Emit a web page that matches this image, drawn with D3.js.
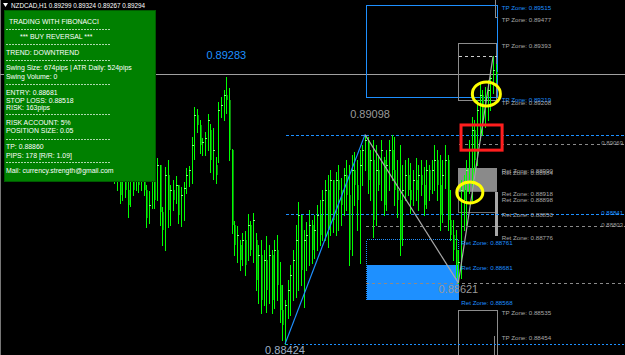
<!DOCTYPE html>
<html><head><meta charset="utf-8">
<script src="https://cdn.jsdelivr.net/npm/d3@7/dist/d3.min.js"></script>
<style>html,body{margin:0;padding:0;background:#000;overflow:hidden}svg{display:block}</style>
</head><body>
<script>
// ---------- DATA ----------
const symbolTitle = "NZDCAD,H1  0.89299 0.89324 0.89267 0.89294";
const barHigh = [0.89000,0.89016,0.89000,0.89000,0.88978,0.88952,0.88968,0.88984,0.89016,0.89000,
0.88984,0.88991,0.88936,0.88917,0.88991,0.88984,0.89023,0.89000,0.88865,0.88994,
0.89016,0.88936,0.88952,0.88965,0.88936,0.88929,0.88946,0.88991,0.88997,0.89090,
0.89187,0.89180,0.89145,0.89087,0.89106,0.89164,0.89132,0.89119,0.89026,0.89203,
0.89219,0.89241,0.89283,0.89248,0.89052,0.88820,0.88804,0.88759,0.88781,0.88788,
0.88843,0.88820,0.88846,0.88781,0.88743,0.88759,0.88727,0.88772,0.88743,0.88727,
0.88759,0.88775,0.88688,0.88614,0.88566,0.88630,0.88678,0.88727,0.88807,0.88881,
0.88839,0.88791,0.88817,0.88855,0.88823,0.88839,0.88871,0.88888,0.88920,0.88952,
0.88968,0.88984,0.88952,0.88978,0.89000,0.88958,0.88991,0.89016,0.89000,0.89032,
0.89042,0.89016,0.89048,0.89065,0.89098,0.89090,0.89048,0.89081,0.89065,0.89032,
0.89081,0.89026,0.89048,0.89081,0.89097,0.89090,0.89016,0.89065,0.89000,0.89016,
0.89023,0.89007,0.88984,0.89023,0.89000,0.89016,0.88994,0.89016,0.89000,0.89016,
0.89065,0.89048,0.89032,0.89016,0.89065,0.89032,0.88920,0.88823,0.88791,0.88727,
0.88952,0.88968,0.89016,0.89081,0.89155,0.89145,0.89209,0.89264,0.89241,0.89251,
0.89274,0.89306,0.89350,0.89324];
const barLow = [0.88942,0.88920,0.88878,0.88888,0.88897,0.88833,0.88868,0.88904,0.88920,0.88913,
0.88920,0.88904,0.88801,0.88814,0.88862,0.88862,0.88888,0.88807,0.88743,0.88727,
0.88801,0.88807,0.88855,0.88878,0.88814,0.88804,0.88823,0.88910,0.88933,0.88942,
0.89020,0.89106,0.89039,0.89032,0.89032,0.89048,0.88978,0.88955,0.88942,0.89010,
0.89155,0.89145,0.89167,0.89016,0.88781,0.88711,0.88688,0.88662,0.88678,0.88646,
0.88695,0.88711,0.88688,0.88598,0.88556,0.88524,0.88550,0.88527,0.88556,0.88524,
0.88540,0.88566,0.88495,0.88437,0.88424,0.88508,0.88518,0.88566,0.88576,0.88598,
0.88614,0.88543,0.88662,0.88678,0.88685,0.88701,0.88727,0.88743,0.88759,0.88759,
0.88736,0.88775,0.88785,0.88775,0.88791,0.88807,0.88839,0.88855,0.88678,0.88711,
0.88871,0.88791,0.88685,0.88936,0.88984,0.88910,0.88888,0.88769,0.88807,0.88920,
0.88888,0.88839,0.88855,0.88920,0.88952,0.88871,0.88833,0.88711,0.88743,0.88888,
0.88904,0.88846,0.88871,0.88888,0.88855,0.88904,0.88839,0.88862,0.88888,0.88910,
0.88920,0.88888,0.88791,0.88817,0.88926,0.88791,0.88759,0.88695,0.88640,0.88621,
0.88637,0.88791,0.88807,0.88910,0.88888,0.88952,0.89000,0.89081,0.89097,0.89122,
0.89145,0.89177,0.89232,0.89267];
const barOpen = [0.88984,0.88958,0.88991,0.88904,0.88978,0.88920,0.88871,0.88952,0.88920,0.88991,
0.88936,0.88968,0.88920,0.88830,0.88871,0.88968,0.88888,0.89000,0.88849,0.88791,
0.88968,0.88855,0.88920,0.88888,0.88936,0.88839,0.88904,0.88926,0.88968,0.88984,
0.89065,0.89161,0.89129,0.89065,0.89074,0.89087,0.89113,0.89016,0.89000,0.89016,
0.89177,0.89193,0.89225,0.89209,0.89048,0.88807,0.88743,0.88743,0.88695,0.88759,
0.88695,0.88807,0.88727,0.88759,0.88630,0.88711,0.88566,0.88695,0.88598,0.88711,
0.88566,0.88727,0.88614,0.88534,0.88485,0.88550,0.88598,0.88646,0.88695,0.88759,
0.88839,0.88662,0.88759,0.88775,0.88807,0.88727,0.88791,0.88839,0.88775,0.88888,
0.88920,0.88791,0.88952,0.88823,0.88952,0.88920,0.88871,0.88968,0.88904,0.88727,
0.88984,0.88936,0.88888,0.89000,0.89048,0.89081,0.88952,0.89016,0.88823,0.88984,
0.88936,0.89016,0.88871,0.89000,0.89048,0.88984,0.88920,0.88888,0.88775,0.88920,
0.88968,0.88920,0.88888,0.88952,0.88920,0.88968,0.88936,0.88871,0.88984,0.88920,
0.88984,0.89016,0.88936,0.88839,0.88968,0.89016,0.88823,0.88775,0.88727,0.88678,
0.88688,0.88920,0.88888,0.88984,0.89048,0.89113,0.89016,0.89177,0.89225,0.89145,
0.89209,0.89241,0.89280,0.89299];
const barClose = [0.88958,0.89000,0.88904,0.88978,0.88920,0.88871,0.88952,0.88920,0.88991,0.88936,
0.88968,0.88920,0.88830,0.88871,0.88968,0.88888,0.89000,0.88849,0.88791,0.88968,
0.88855,0.88920,0.88888,0.88936,0.88839,0.88904,0.88926,0.88968,0.88984,0.89065,
0.89161,0.89129,0.89065,0.89074,0.89087,0.89145,0.89016,0.89048,0.88968,0.89177,
0.89193,0.89225,0.89209,0.89048,0.88807,0.88743,0.88775,0.88695,0.88759,0.88678,
0.88807,0.88727,0.88823,0.88630,0.88711,0.88566,0.88695,0.88598,0.88711,0.88566,
0.88727,0.88614,0.88534,0.88485,0.88550,0.88598,0.88646,0.88695,0.88759,0.88839,
0.88662,0.88759,0.88775,0.88807,0.88727,0.88791,0.88839,0.88775,0.88888,0.88920,
0.88791,0.88952,0.88823,0.88952,0.88920,0.88871,0.88968,0.88904,0.88727,0.88984,
0.88936,0.88888,0.89000,0.89048,0.89081,0.88952,0.89016,0.88823,0.88984,0.88936,
0.89048,0.88871,0.89000,0.89048,0.88984,0.88920,0.88888,0.88759,0.88920,0.88968,
0.88920,0.88888,0.88952,0.88920,0.88968,0.88936,0.88871,0.88984,0.88920,0.88984,
0.89016,0.88936,0.88839,0.88968,0.89016,0.88823,0.88775,0.88727,0.88678,0.88688,
0.88920,0.88888,0.88984,0.89048,0.89113,0.89016,0.89177,0.89225,0.89145,0.89209,
0.89241,0.89280,0.89306,0.89294];

const bidPrice = 0.89294;
const swingBars = [64, 94, 129, 142];
const swingPrices = [0.88424, 0.89098, 0.88621, 0.89350];
const swingLabels = ["0.88424", "0.89098", "0.88621", ""];
const highLabelBar = 42, highLabelPrice = 0.89283, highLabelText = "0.89283";

const blueLevels = [0.89098, 0.88841];
const blueLevelLabels = ["", "0.88841"];
const dottedLowLevel = 0.88424;
const grayLevels = [0.88803, 0.88621];
const grayLevelLabels = ["0.88803", ""];
const entryZoneLevel = 0.89069;

const tpZoneTopBlue = [0.89515, 0.89219];
const tpZoneTopGray = [0.89393, 0.89208];
const swingHighMid = 0.89350;
const retZoneFill = [0.88990, 0.88918];
const retZoneBox = [0.88918, 0.88850];
const retZoneBar = [0.88918, 0.88776];
const entryZone = [0.88761, 0.88568];
const entryZoneFill = [0.88681, 0.88568];
const tpZoneLow = [0.88535, 0.88380];
const tpZoneLowBar = 0.88454;
const tpZoneTopBar = 0.89477;
const redBox = [0.89129, 0.89048];
const circleCentersBar = [139.5, 133.3];
const circleCentersPrice = [0.89229, 0.88912];

const zoneLabelTexts = ["TP Zone: 0.89515","TP Zone: 0.89477","TP Zone: 0.89393","TP Zone: 0.89219","TP Zone: 0.89208",
  "Ret Zone: 0.88990","Ret Zone: 0.88984","Ret Zone: 0.88918","Ret Zone: 0.88898","Ret Zone: 0.88850","Ret Zone: 0.88776",
  "TP Zone: 0.88535","TP Zone: 0.88454"];
const zoneLabelPrices = [0.89515,0.89477,0.89393,0.89219,0.89208,0.88990,0.88984,0.88918,0.88898,0.88850,0.88776,0.88535,0.88454];
const zoneLabelBlue = [true,false,false,true,false,false,false,false,false,false,false,false,false];
const retLabelTexts = ["Ret Zone: 0.88761","Ret Zone: 0.88681","Ret Zone: 0.88568"];
const retLabelPrices = [0.88761,0.88681,0.88568];

const panelLines = [
  ["TRADING WITH FIBONACCI", 1], ["*** BUY REVERSAL ***", 2], ["TREND: DOWNTREND", 0],
  ["Swing Size: 674pips | ATR Daily: 524pips", 0], ["Swing Volume: 0", 0],
  ["ENTRY: 0.88681", 0], ["STOP LOSS: 0.88518", 0], ["RISK: 163pips", 0],
  ["RISK ACCOUNT: 5%", 0], ["POSITION SIZE: 0.05", 0],
  ["TP: 0.88860", 0], ["PIPS: 178  [R/R: 1.09]", 0],
  ["Mail: currency.strength@gmail.com", 0]
];
const panelRowY = [21, 36, 52, 67, 76, 92, 100, 107, 122, 130, 146, 155, 170];
const panelSepY = [29, 44, 60, 84, 114, 139, 162];

// ---------- DRAW ----------
const W = 625, H = 355;
const BLUE = "#1e90ff", GRAY = "#9a9a9a", LIME = "#00ff00";
const svg = d3.select("body").append("svg").attr("width", W).attr("height", H);
svg.append("rect").attr("width", W).attr("height", H).attr("fill", "#000");

const x = d3.scaleLinear().domain([0, 143]).range([114.3, 495.7]);
const y = d3.scaleLinear().domain([0.88424, 0.89515]).range([344.1, 5]);
const px = i => Math.round(x(i)) + 0.5;
const py = p => Math.round(y(p)) + 0.5;
const lastBar = barHigh.length - 1;

svg.append("line").attr("x1", 0.5).attr("x2", 0.5).attr("y1", 0).attr("y2", H).attr("stroke", "#777");

const g = svg.append("g").attr("shape-rendering", "crispEdges");

g.append("line").attr("x1", 0).attr("x2", W).attr("y1", py(bidPrice)).attr("y2", py(bidPrice))
  .attr("stroke", "#a0a0a0").attr("stroke-width", 1);

function rect(b0, b1, p0, p1) {
  const xa = Math.round(x(b0)), xb = Math.round(x(b1));
  const ya = Math.round(y(Math.max(p0, p1))), yb = Math.round(y(Math.min(p0, p1)));
  return g.append("rect").attr("x", xa + 0.5).attr("y", ya + 0.5).attr("width", xb - xa).attr("height", yb - ya);
}
rect(94.4, 143.6, tpZoneTopBlue[0], tpZoneTopBlue[1]).attr("fill", "none").attr("stroke", BLUE).attr("stroke-width", 1.4);
rect(129, 143, tpZoneTopGray[0], tpZoneTopGray[1]).attr("fill", "none").attr("stroke", "#8c8c8c");
g.append("line").attr("x1", px(129)).attr("x2", px(143)).attr("y1", py(swingHighMid)).attr("y2", py(swingHighMid))
  .attr("stroke", "#d0d0d0").attr("stroke-dasharray", "3,3");
g.append("line").attr("x1", px(143) - 1).attr("x2", px(143) - 1).attr("y1", 0).attr("y2", py(tpZoneTopBar)).attr("stroke", "#8c8c8c");
g.append("line").attr("x1", px(142.2)).attr("x2", px(143.6)).attr("y1", py(tpZoneTopBar)).attr("y2", py(tpZoneTopBar)).attr("stroke", "#8c8c8c");

rect(129, 143, retZoneFill[0], retZoneFill[1]).attr("fill", "#8a8a8a").attr("stroke", "#8a8a8a");
rect(129, 143, retZoneBox[0], retZoneBox[1]).attr("fill", "none").attr("stroke", "#707070");
rect(142.3, 143.5, retZoneBar[0], retZoneBar[1]).attr("fill", "#a8a8a8").attr("stroke", "none");

rect(94.4, 129, entryZoneFill[0], entryZoneFill[1]).attr("fill", BLUE).attr("stroke", "none");
rect(94.4, 129, entryZone[0], entryZone[1]).attr("fill", "none").attr("stroke", BLUE).attr("stroke-dasharray", "1,1");

rect(129, 143.5, tpZoneLow[0], tpZoneLow[1]).attr("fill", "none").attr("stroke", "#8c8c8c");
g.append("line").attr("x1", px(142.3)).attr("x2", px(142.3)).attr("y1", py(tpZoneLowBar)).attr("y2", H).attr("stroke", "#8c8c8c");

blueLevels.forEach(p => {
  g.append("line").attr("x1", px(64)).attr("x2", W).attr("y1", py(p)).attr("y2", py(p))
    .attr("stroke", BLUE).attr("stroke-dasharray", "3,2");
});
g.append("line").attr("x1", px(64)).attr("x2", W).attr("y1", py(dottedLowLevel)).attr("y2", py(dottedLowLevel))
  .attr("stroke", BLUE).attr("stroke-dasharray", "2,2");
grayLevels.forEach(p => {
  g.append("line").attr("x1", px(94)).attr("x2", W).attr("y1", py(p)).attr("y2", py(p))
    .attr("stroke", "#8a8a8a").attr("stroke-dasharray", "3,3");
});
g.append("line").attr("x1", px(129)).attr("x2", W).attr("y1", py(entryZoneLevel)).attr("y2", py(entryZoneLevel))
  .attr("stroke", "#8a8a8a").attr("stroke-dasharray", "3,3");

// candles: lime high-low line, bear body as dark-green strip beside it, small lime close tick for bulls
const idx = d3.range(barHigh.length);
g.selectAll("rect.body").data(idx.filter(i => barClose[i] < barOpen[i])).join("rect").attr("class", "body")
  .attr("x", i => Math.round(x(i)) + 1).attr("width", 1)
  .attr("y", i => Math.round(y(barOpen[i]))).attr("height", i => Math.max(1, Math.round(y(barClose[i])) - Math.round(y(barOpen[i]))))
  .attr("fill", "#0b8a0b");
g.selectAll("line.wick").data(idx).join("line").attr("class", "wick")
  .attr("x1", px).attr("x2", px).attr("y1", i => Math.round(y(barHigh[i]))).attr("y2", i => Math.round(y(barLow[i])) + 1)
  .attr("stroke", LIME).attr("stroke-width", 1);
g.selectAll("line.tick").data(idx.filter(i => barClose[i] >= barOpen[i])).join("line").attr("class", "tick")
  .attr("x1", i => px(i) - 1).attr("x2", i => px(i) + 1)
  .attr("y1", i => py(barClose[i])).attr("y2", i => py(barClose[i])).attr("stroke", "#7dff7d");

const zz = svg.append("g");
zz.append("line").attr("x1", x(swingBars[0])).attr("y1", y(swingPrices[0])).attr("x2", x(swingBars[1])).attr("y2", y(swingPrices[1]))
  .attr("stroke", BLUE).attr("stroke-width", 1.2);
for (let k = 1; k < swingBars.length - 1; k++) {
  zz.append("line").attr("x1", x(swingBars[k])).attr("y1", y(swingPrices[k])).attr("x2", x(swingBars[k + 1])).attr("y2", y(swingPrices[k + 1]))
    .attr("stroke", "#a8a8a8").attr("stroke-width", 1.2);
}

svg.append("rect").attr("x", x(130)).attr("y", y(redBox[0])).attr("width", x(145.4) - x(130)).attr("height", y(redBox[1]) - y(redBox[0]))
  .attr("fill", "none").attr("stroke", "#ff1e1e").attr("stroke-width", 3);
const circR = [[14, 12], [13, 10.5]];
circleCentersBar.forEach((b, k) => {
  svg.append("ellipse").attr("cx", x(b)).attr("cy", y(circleCentersPrice[k])).attr("rx", circR[k][0]).attr("ry", circR[k][1])
    .attr("fill", "none").attr("stroke", "#ffff00").attr("stroke-width", 3);
});

const T = svg.append("g").attr("font-family", "'Liberation Sans', Arial, sans-serif");
const big = svg.append("g").attr("font-family", "'Liberation Sans Narrow', 'Liberation Sans', sans-serif").attr("font-size", 11);
big.append("text").attr("x", x(highLabelBar)).attr("y", y(highLabelPrice) - 18).attr("text-anchor", "middle").attr("fill", BLUE).text(highLabelText);
big.append("text").attr("x", x(swingBars[1]) + 5).attr("y", y(swingPrices[1]) - 17).attr("text-anchor", "middle").attr("fill", GRAY).text(swingLabels[1]);
big.append("text").attr("x", x(swingBars[0])).attr("y", y(swingPrices[0]) + 10).attr("text-anchor", "middle").attr("fill", "#9fb0c4").text(swingLabels[0]);
big.append("text").attr("x", x(swingBars[2])).attr("y", y(swingPrices[2]) + 10).attr("text-anchor", "middle").attr("fill", GRAY).text(swingLabels[2]);

zoneLabelTexts.forEach((t, k) => {
  T.append("text").attr("x", x(lastBar) + 6).attr("y", y(zoneLabelPrices[k]) + 5).attr("font-size", 6.2)
    .attr("fill", zoneLabelBlue[k] ? BLUE : "#a8a8a8").text(t);
});
retLabelTexts.forEach((t, k) => {
  T.append("text").attr("x", x(129) + 3).attr("y", y(retLabelPrices[k]) + 5.5).attr("font-size", 6.2)
    .attr("fill", BLUE).text(t);
});
T.append("text").attr("x", 623).attr("y", y(entryZoneLevel) + 1).attr("text-anchor", "end").attr("font-size", 6).attr("fill", GRAY).text("0.89069");
T.append("text").attr("x", 623).attr("y", y(blueLevels[1]) + 1).attr("text-anchor", "end").attr("font-size", 6).attr("fill", BLUE).text(blueLevelLabels[1]);
T.append("text").attr("x", 623).attr("y", y(grayLevels[0]) + 1).attr("text-anchor", "end").attr("font-size", 6).attr("fill", GRAY).text(grayLevelLabels[0]);

const P = svg.append("g").attr("font-family", "'Liberation Sans', Arial, sans-serif");
P.append("rect").attr("x", 4.5).attr("y", 10.5).attr("width", 151).attr("height", 171).attr("fill", "#008000").attr("stroke", "#005a00");
panelLines.forEach((r, k) => {
  P.append("text").attr("x", r[1] === 1 ? 9 : r[1] === 2 ? 20 : 6).attr("y", panelRowY[k] + 2.5).attr("font-size", 6.9)
    .attr("fill", "#ffffff").text(r[0]);
});
panelSepY.forEach(v => {
  P.append("line").attr("x1", 6).attr("x2", 110).attr("y1", v + 0.5).attr("y2", v + 0.5)
    .attr("stroke", "#d8f0d8").attr("stroke-dasharray", "2,1").attr("stroke-width", 0.8);
});

svg.append("path").attr("d", "M3,3 L8,3 L5.5,7 Z").attr("fill", "#fff");
svg.append("text").attr("x", 11).attr("y", 7.5).attr("font-size", 6.3).attr("font-family", "'Liberation Sans', Arial, sans-serif")
  .attr("fill", "#fff").text(symbolTitle);
</script>
</body></html>
